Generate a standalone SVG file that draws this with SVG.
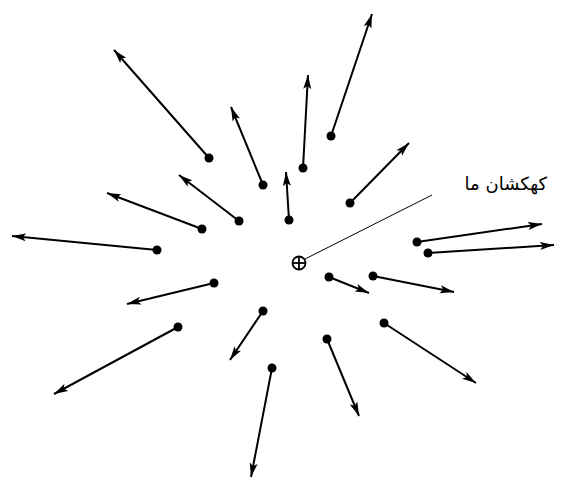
<svg xmlns="http://www.w3.org/2000/svg" width="565" height="483" viewBox="0 0 565 483">
<style>
.v{stroke:#000;stroke-width:2;fill:none;marker-end:url(#ah)}
.g{fill:#000}
.lead{stroke:#000;stroke-width:1;fill:none}
.lbl{font-family:"DejaVu Sans",sans-serif;font-size:18px;fill:#000}
</style>
<defs>
<marker id="ah" markerWidth="15" markerHeight="9" refX="14" refY="4.5" orient="auto" markerUnits="userSpaceOnUse">
<path d="M0,0.5 L14,4.5 L0,8.5 L3,4.5 Z" fill="#000"/>
</marker>
</defs>
<rect width="565" height="483" fill="#fff"/>
<g id="galaxies">
<g id="g1"><line class="v" x1="209" y1="158" x2="114" y2="50"/><circle class="g" cx="209" cy="158" r="4.5"/></g>
<g id="g2"><line class="v" x1="263" y1="185" x2="231" y2="107"/><circle class="g" cx="263" cy="185" r="4.5"/></g>
<g id="g3"><line class="v" x1="239" y1="221" x2="179" y2="175"/><circle class="g" cx="239" cy="221" r="4.5"/></g>
<g id="g4"><line class="v" x1="202" y1="229" x2="107" y2="193"/><circle class="g" cx="202" cy="229" r="4.5"/></g>
<g id="g5"><line class="v" x1="157" y1="250" x2="12" y2="236"/><circle class="g" cx="157" cy="250" r="4.5"/></g>
<g id="g6"><line class="v" x1="214" y1="283" x2="127" y2="304"/><circle class="g" cx="214" cy="283" r="4.5"/></g>
<g id="g7"><line class="v" x1="178" y1="327" x2="54" y2="394"/><circle class="g" cx="178" cy="327" r="4.5"/></g>
<g id="g8"><line class="v" x1="263" y1="311" x2="230" y2="360"/><circle class="g" cx="263" cy="311" r="4.5"/></g>
<g id="g9"><line class="v" x1="272" y1="368" x2="251" y2="477"/><circle class="g" cx="272" cy="368" r="4.5"/></g>
<g id="g10"><line class="v" x1="331" y1="136" x2="372" y2="14"/><circle class="g" cx="331" cy="136" r="4.5"/></g>
<g id="g11"><line class="v" x1="303" y1="168" x2="308" y2="75"/><circle class="g" cx="303" cy="168" r="4.5"/></g>
<g id="g12"><line class="v" x1="289" y1="220" x2="286" y2="172"/><circle class="g" cx="289" cy="220" r="4.5"/></g>
<g id="g13"><line class="v" x1="350" y1="203" x2="409" y2="143"/><circle class="g" cx="350" cy="203" r="4.5"/></g>
<g id="g14"><line class="v" x1="417" y1="242" x2="542" y2="224"/><circle class="g" cx="417" cy="242" r="4.5"/></g>
<g id="g15"><line class="v" x1="428" y1="253" x2="554" y2="245"/><circle class="g" cx="428" cy="253" r="4.5"/></g>
<g id="g16"><line class="v" x1="329" y1="277" x2="369" y2="293"/><circle class="g" cx="329" cy="277" r="4.5"/></g>
<g id="g17"><line class="v" x1="373" y1="276" x2="454" y2="292"/><circle class="g" cx="373" cy="276" r="4.5"/></g>
<g id="g18"><line class="v" x1="384" y1="323" x2="476" y2="383"/><circle class="g" cx="384" cy="323" r="4.5"/></g>
<g id="g19"><line class="v" x1="327" y1="339" x2="359" y2="416"/><circle class="g" cx="327" cy="339" r="4.5"/></g>
</g>
<g id="milkyway">
<circle cx="299" cy="263" r="6.5" fill="none" stroke="#000" stroke-width="1.8"/>
<line x1="292.5" y1="263" x2="305.5" y2="263" stroke="#000" stroke-width="1.8"/>
<line x1="299" y1="256.5" x2="299" y2="269.5" stroke="#000" stroke-width="1.8"/>
</g>
<g id="connectors">
<line class="lead" x1="305" y1="259" x2="432" y2="195"/>
</g>
<g id="label">
<text class="lbl" x="547" y="190" text-anchor="end">کهکشان ما</text>
</g>
</svg>
